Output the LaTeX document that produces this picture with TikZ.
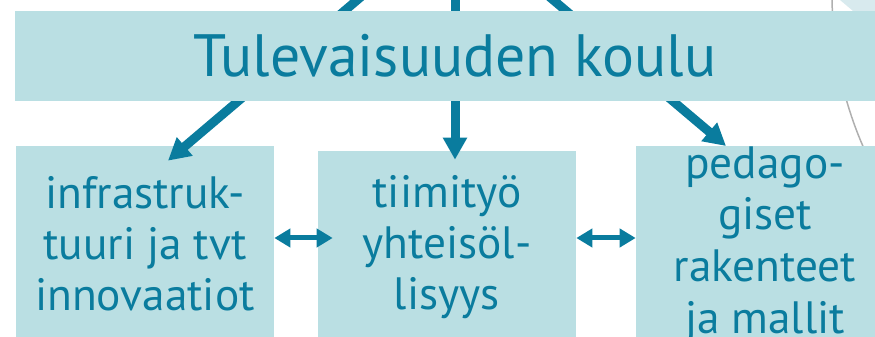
\documentclass[tikz,border=0pt]{standalone}
\usepackage{fontspec}
\setmainfont{PT Sans}
\usetikzlibrary{arrows.meta}

\definecolor{boxfill}{RGB}{186,223,227}
\definecolor{deepteal}{RGB}{10,124,158}
\definecolor{paleteal}{RGB}{216,234,238}
\definecolor{arcgray}{RGB}{175,175,175}

\begin{document}
\begin{tikzpicture}[x=0.02cm, y=-0.02cm,
    box/.style={rectangle, fill=boxfill, text=deepteal, align=center,
                inner sep=0pt, minimum width=5.16cm,
                font=\fontsize{25.8}{29}\selectfont},
    down/.style={draw=deepteal, line width=0.18cm,
                 -{Triangle[length=0.44cm, width=0.46cm]}},
    duo/.style={draw=deepteal, line width=0.1cm,
                {Triangle[length=0.32cm, width=0.36cm]}-{Triangle[length=0.32cm, width=0.36cm]}}
]
\useasboundingbox (0,0) rectangle (875,337);
\clip (0,0) rectangle (875,337);

% background bits at the right edge
\fill[paleteal] (840,0) -- (880,0) -- (880,11) -- (853,11) -- cycle;
\draw[arcgray, line width=0.03cm] (1207,-3) circle [radius=7.5cm];

\node (infra) [box, minimum height=3.92cm] at (145,244) {infrastruk-\\tuuri ja tvt\\innovaatiot};
\node (tiimi) [box, minimum height=3.84cm] at (447,247) {tiimityö\\yhteisöl-\\lisyys};
\node (peda) [box, anchor=north, minimum height=3.9cm, inner ysep=0pt,
              font=\fontsize{25.8}{29.4}\selectfont] at (765,146) {pedago-\\giset\\rakenteet\\ja mallit};

\coordinate (hub) at (455,-83);
\coordinate (level) at (0,238);

\draw[down] (hub) -- ([shift={(23,15)}]infra.north);
\draw[down] (hub) -- ([shift={(8,9)}]tiimi.north);
\draw[down] (hub) -- ([shift={(-39,0)}]peda.north);

\draw[duo, shorten >=-0.3cm] (infra.east |- level) -- (tiimi.west |- level);
\draw[duo] (tiimi.east |- level) -- (peda.west |- level);

\node (koulu) [box, minimum width=17.6cm, minimum height=1.8cm,
               font=\fontsize{34}{40}\selectfont] at (455,56) {Tulevaisuuden koulu};
\end{tikzpicture}
\end{document}
